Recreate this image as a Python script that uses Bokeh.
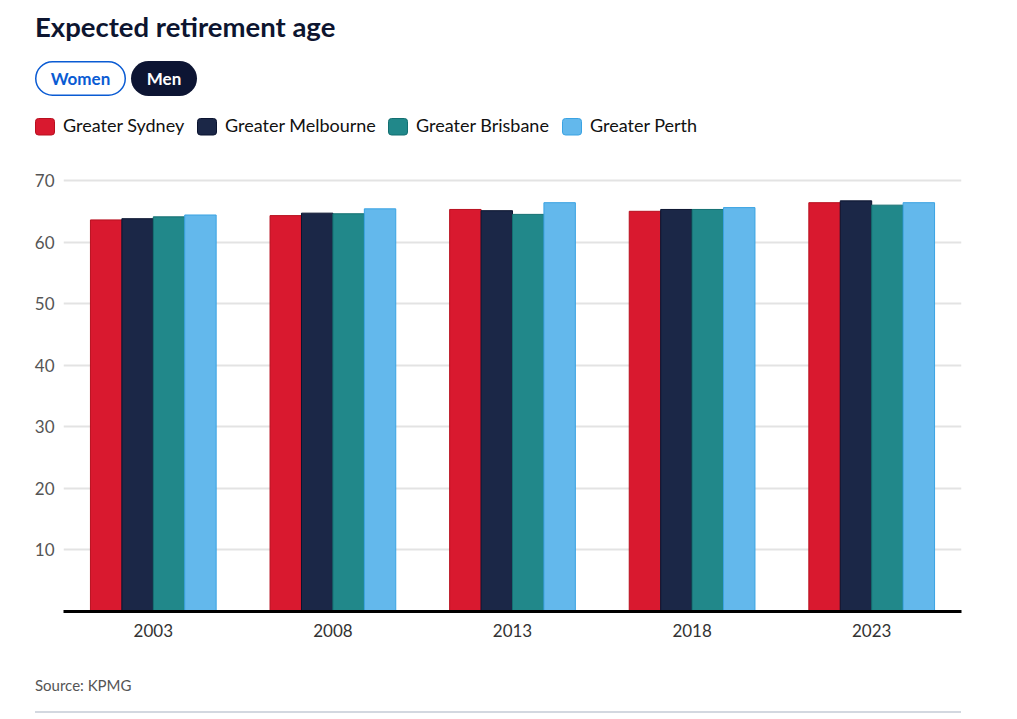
from bokeh.plotting import figure
from bokeh.models import ColumnDataSource, FactorRange, Range1d, FixedTicker, Div
from bokeh.layouts import column
from bokeh.transform import dodge
from bokeh.embed import file_html
from bokeh.resources import INLINE

# ---------------- data ----------------
years = ["2003", "2008", "2013", "2018", "2023"]
cities = ["Greater Sydney", "Greater Melbourne", "Greater Brisbane", "Greater Perth"]
sydney = [63.6, 64.3, 65.3, 65.0, 66.4]
melbourne = [63.8, 64.7, 65.1, 65.3, 66.7]
brisbane = [64.1, 64.6, 64.5, 65.3, 66.0]
perth = [64.4, 65.4, 66.4, 65.6, 66.4]
y_ticks = [10, 20, 30, 40, 50, 60, 70]
title_text = "Expected retirement age"
toggle_labels = ["Women", "Men"]
source_text = "Source: KPMG"

# ---------------- styles / layout ----------------
fills = ["#d9192f", "#1b2747", "#21888a", "#63b8ec"]
outlines = ["#b8101f", "#0b1430", "#136f71", "#3aa3e3"]
W = 1010
HEAD_H = 160
FT, FB = 177, 611          # frame top / bottom (page px)
FOOT_TOP, PAGE_H = 650, 716
FL, FR = 63, 961


def txt(x, y, s, size, color, weight="normal", anchor="start"):
    return (f'<text x="{x}" y="{y}" text-anchor="{anchor}" '
            f'style="font-family:Lato;font-size:{size}px;font-weight:{weight};fill:{color}">'
            f'{s}</text>')


# ---------------- header (inline SVG inside a Div) ----------------
sq_x = [35, 197, 388, 562]
tx_x = [63, 225, 416, 590]
parts = [f'<svg xmlns="http://www.w3.org/2000/svg" width="{W}" height="{HEAD_H}" '
         f'style="display:block;font-family:Lato">']
parts.append(txt(35, 37, title_text, 27.5, "#0d1530", "bold"))
parts.append('<rect x="35.75" y="61.75" width="89.5" height="33.5" rx="16.75" '
             'style="fill:#ffffff;stroke:#0a5bd3;stroke-width:1.5"/>')
parts.append('<rect x="131" y="61" width="66" height="35" rx="17.5" style="fill:#0d1533"/>')
parts.append(txt(80.5, 85, toggle_labels[0], 17, "#0a5bd3", "bold", "middle"))
parts.append(txt(164, 85, toggle_labels[1], 17, "#ffffff", "bold", "middle"))
for i, name in enumerate(cities):
    parts.append(f'<rect x="{sq_x[i] + 0.5}" y="118.5" width="19" height="16.5" rx="3" '
                 f'style="fill:{fills[i]};stroke:{outlines[i]};stroke-width:1"/>')
    parts.append(txt(tx_x[i], 132, name, 18, "#111111"))
parts.append('</svg>')
header = Div(text="".join(parts), width=W, height=HEAD_H, margin=0)

# ---------------- chart ----------------
src = ColumnDataSource(dict(years=years, sydney=sydney, melbourne=melbourne,
                            brisbane=brisbane, perth=perth))
CH = FOOT_TOP - HEAD_H
p = figure(width=W, height=CH, x_range=FactorRange(*years, range_padding=0),
           y_range=Range1d(0, 70.49), toolbar_location=None, output_backend="svg",
           min_border_left=FL, min_border_right=W - FR,
           min_border_top=FT - HEAD_H, min_border_bottom=FOOT_TOP - FB)
bw = 0.175
offs = [-1.5 * bw, -0.5 * bw, 0.5 * bw, 1.5 * bw]
cols = ["sydney", "melbourne", "brisbane", "perth"]
for i, c in enumerate(cols):
    p.vbar(x=dodge("years", offs[i], range=p.x_range), top=c, width=bw, bottom=0,
           source=src, fill_color=fills[i], line_color=outlines[i], line_width=1)

p.outline_line_color = None
p.xgrid.grid_line_color = None
p.ygrid.grid_line_color = "#e3e3e3"
p.ygrid.grid_line_width = 2
p.yaxis.ticker = FixedTicker(ticks=y_ticks)
p.yaxis.axis_line_color = None
p.yaxis.major_tick_line_color = None
p.yaxis.minor_tick_line_color = None
p.yaxis.major_tick_out = 0
p.yaxis.major_label_standoff = 9
p.yaxis.major_label_text_font = "Lato"
p.yaxis.major_label_text_font_size = "17px"
p.yaxis.major_label_text_color = "#555555"

p.xaxis.axis_line_color = "black"
p.xaxis.axis_line_width = 3
p.xaxis.major_tick_line_color = None
p.xaxis.major_tick_out = 0
p.xaxis.major_label_standoff = 12
p.xaxis.major_label_text_font = "Lato"
p.xaxis.major_label_text_font_size = "17px"
p.xaxis.major_label_text_color = "#333333"

# ---------------- footer ----------------
FOOT_H = PAGE_H - FOOT_TOP
fparts = [f'<svg xmlns="http://www.w3.org/2000/svg" width="{W}" height="{FOOT_H}" '
          f'style="display:block;font-family:Lato">',
          txt(35, 691 - FOOT_TOP, source_text, 15, "#555555"),
          f'<line x1="35" y1="{712 - FOOT_TOP}" x2="961" y2="{712 - FOOT_TOP}" '
          f'style="stroke:#c5cbd6;stroke-width:1.5"/>',
          '</svg>']
footer = Div(text="".join(fparts), width=W, height=FOOT_H, margin=0)

layout = column(header, p, footer, spacing=0)
open("out.html", "w").write(file_html(layout, INLINE))
